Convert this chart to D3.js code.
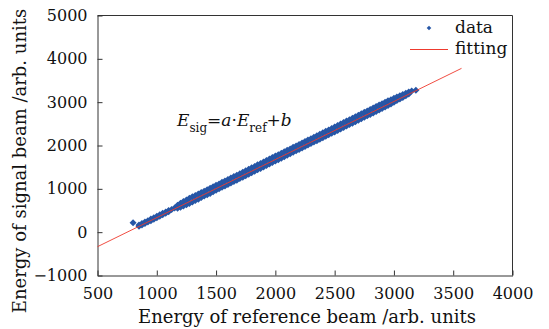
<!DOCTYPE html>
<html>
<head>
<meta charset="utf-8">
<script src="https://cdn.jsdelivr.net/npm/d3@7"></script>
<style>
  body { margin: 0; background: #fff; }
  svg { display: block; }
  text { font-family: "DejaVu Serif", "Liberation Serif", serif; fill: #111; }
  .axis path, .axis line { stroke: #333; }
</style>
</head>
<body>
<div id="chart"></div>
<script>
// --- Data ---
const dataX = [
  800, 850, 850, 875, 875, 900, 900, 925, 925, 950, 950, 975, 975, 1000, 1000,
  1025, 1025, 1050, 1050, 1075, 1075, 1100, 1100, 1125, 1150,
  1175, 1175, 1200, 1200, 1225, 1225, 1250, 1250, 1275, 1275, 1300, 1300,
  1325, 1325, 1350, 1350, 1375, 1375, 1400, 1400, 1425, 1425, 1450, 1450,
  1475, 1475, 1500, 1500, 1525, 1525, 1550, 1550, 1575, 1575, 1600, 1600,
  1625, 1625, 1650, 1650, 1675, 1675, 1700, 1700, 1725, 1725, 1750, 1750,
  1775, 1775, 1800, 1800, 1825, 1825, 1850, 1850, 1875, 1875, 1900, 1900,
  1925, 1925, 1950, 1950, 1975, 1975, 2000, 2000, 2025, 2025, 2050, 2050,
  2075, 2075, 2100, 2100, 2125, 2125, 2150, 2150, 2175, 2175, 2200, 2200,
  2225, 2225, 2250, 2250, 2275, 2275, 2300, 2300, 2325, 2325, 2350, 2350,
  2375, 2375, 2400, 2400, 2425, 2425, 2450, 2450, 2475, 2475, 2500, 2500,
  2525, 2525, 2550, 2550, 2575, 2575, 2600, 2600, 2625, 2625, 2650, 2650,
  2675, 2675, 2700, 2700, 2725, 2725, 2750, 2750, 2775, 2775, 2800, 2800,
  2825, 2825, 2850, 2850, 2875, 2875, 2900, 2900, 2925, 2925, 2950, 2950,
  2975, 2975, 3000, 3000, 3025, 3025, 3050, 3050, 3075, 3075, 3100, 3100,
  3125, 3125, 3150, 3185
];
const dataY = [
  217, 164, 134, 200, 166, 232, 199, 266, 232, 302, 266, 334, 299, 370, 332,
  402, 366, 436, 400, 466, 436, 498, 472, 524, 560,
  622, 552, 670, 577, 710, 602, 745, 630, 780, 662, 815, 696,
  846, 730, 880, 760, 915, 798, 946, 832, 978, 865, 1015, 895,
  1050, 932, 1082, 966, 1112, 1000, 1150, 1034, 1182, 1068, 1215, 1100,
  1250, 1135, 1285, 1168, 1315, 1200, 1350, 1236, 1384, 1270, 1418, 1302,
  1450, 1338, 1486, 1370, 1518, 1404, 1555, 1438, 1585, 1472, 1620, 1505,
  1655, 1538, 1686, 1572, 1722, 1606, 1755, 1640, 1788, 1674, 1822, 1706,
  1856, 1742, 1888, 1775, 1922, 1808, 1958, 1842, 1990, 1876, 2022, 1908,
  2058, 1942, 2090, 1976, 2125, 2010, 2158, 2044, 2192, 2078, 2226, 2110,
  2260, 2145, 2294, 2178, 2326, 2212, 2360, 2246, 2395, 2280, 2428, 2314,
  2462, 2346, 2496, 2380, 2528, 2414, 2564, 2448, 2596, 2482, 2630, 2516,
  2664, 2548, 2696, 2584, 2730, 2616, 2765, 2650, 2798, 2684, 2832, 2718,
  2864, 2752, 2898, 2786, 2932, 2820, 2965, 2852, 2998, 2888, 3030, 2922,
  3058, 2960, 3090, 2998, 3118, 3036, 3148, 3072, 3175, 3108, 3208, 3146,
  3234, 3188, 3256, 3277
];
// fitted line end points
const fitX = [500, 3570];
const fitY = [-335, 3780];

const xTicks = [500, 1000, 1500, 2000, 2500, 3000, 3500, 4000];
const yTicks = [-1000, 0, 1000, 2000, 3000, 4000, 5000];

const xLabel = 'Energy of reference beam /arb. units';
const yLabel = 'Energy of signal beam /arb. units';
const legendNames = ['data', 'fitting'];

// --- Plot sizing ---
const W = 549, H = 329;
const margin = { top: 15.5, right: 36.5, bottom: 53.5, left: 97.5 };
const width = W - margin.left - margin.right;
const height = H - margin.top - margin.bottom;

const dotColor = '#2656a6';
const lineColor = '#ee3a2e';
const dotR = 3.5;

const svg = d3.select('#chart').append('svg')
  .attr('width', W)
  .attr('height', H);

const plot = svg.append('g')
  .attr('transform', `translate(${margin.left},${margin.top})`);

// --- Scales ---
const x = d3.scaleLinear().domain([500, 4000]).range([0, width]);
const y = d3.scaleLinear().domain([-1000, 5000]).range([height, 0]);

// frame (top + right)
plot.append('path')
  .attr('d', `M0,0H${width}V${height}`)
  .attr('fill', 'none')
  .attr('stroke', '#333');

const fmt = d => d < 0 ? '\u2212' + Math.abs(d) : String(d);

// AXIS
const xAxis = d3.axisBottom(x).tickValues(xTicks).tickSizeInner(-5).tickSizeOuter(0).tickPadding(12)
  .tickFormat(fmt);
const yAxis = d3.axisLeft(y).tickValues(yTicks).tickSizeInner(-5).tickSizeOuter(0).tickPadding(10)
  .tickFormat(fmt);

plot.append('g')
  .attr('class', 'axis axis--x')
  .attr('transform', `translate(0,${height})`)
  .call(xAxis)
  .call(g => g.selectAll('text').attr('font-size', 16));

plot.append('g')
  .attr('class', 'axis axis--y')
  .call(yAxis)
  .call(g => g.selectAll('text').attr('font-size', 16));

svg.selectAll('.axis').attr('font-family', null);

// diamond marker
const diamond = r => `M0,${-r}L${r},0L0,${r}L${-r},0Z`;

// data points
const pts = dataX.map((d, i) => ({ x: d, y: dataY[i] }));
plot.append('g')
  .selectAll('path')
  .data(pts)
  .enter().append('path')
  .attr('d', diamond(dotR))
  .attr('transform', d => `translate(${x(d.x)},${y(d.y)})`)
  .attr('fill', dotColor);

// fitting line
const fit = fitX.map((d, i) => ({ x: d, y: fitY[i] }));
plot.append('path')
  .datum(fit)
  .attr('d', d3.line().x(d => x(d.x)).y(d => y(d.y)))
  .attr('fill', 'none')
  .attr('stroke', lineColor)
  .attr('stroke-width', 0.9);

// equation
const eq = svg.append('text')
  .attr('x', 177)
  .attr('y', 126)
  .attr('font-size', 17);
eq.append('tspan').attr('font-style', 'italic').text('E');
eq.append('tspan').attr('font-size', 12).attr('dy', 6).text('sig');
eq.append('tspan').attr('dy', -6).text('=');
eq.append('tspan').attr('font-style', 'italic').text('a');
eq.append('tspan').text('\u00b7');
eq.append('tspan').attr('font-style', 'italic').text('E');
eq.append('tspan').attr('font-size', 12).attr('dy', 6).text('ref');
eq.append('tspan').attr('dy', -6).text('+');
eq.append('tspan').attr('font-style', 'italic').text('b');

// legend
const legend = svg.append('g');
legend.append('path')
  .attr('d', diamond(2.3))
  .attr('transform', 'translate(429,28)')
  .attr('fill', dotColor);
legend.append('line')
  .attr('x1', 410).attr('x2', 448)
  .attr('y1', 49.5).attr('y2', 49.5)
  .attr('stroke', lineColor)
  .attr('stroke-width', 1);
legend.selectAll('text.leg')
  .data(legendNames)
  .enter().append('text')
  .attr('class', 'leg')
  .attr('x', 455)
  .attr('y', (d, i) => 33 + i * 21)
  .attr('font-size', 17)
  .text(d => d);

// axis titles
svg.append('text')
  .attr('x', 307)
  .attr('y', 323)
  .attr('text-anchor', 'middle')
  .attr('font-size', 18)
  .text(xLabel);

svg.append('text')
  .attr('transform', 'translate(26,161) rotate(-90)')
  .attr('text-anchor', 'middle')
  .attr('font-size', 18)
  .text(yLabel);
</script>
</body>
</html>
